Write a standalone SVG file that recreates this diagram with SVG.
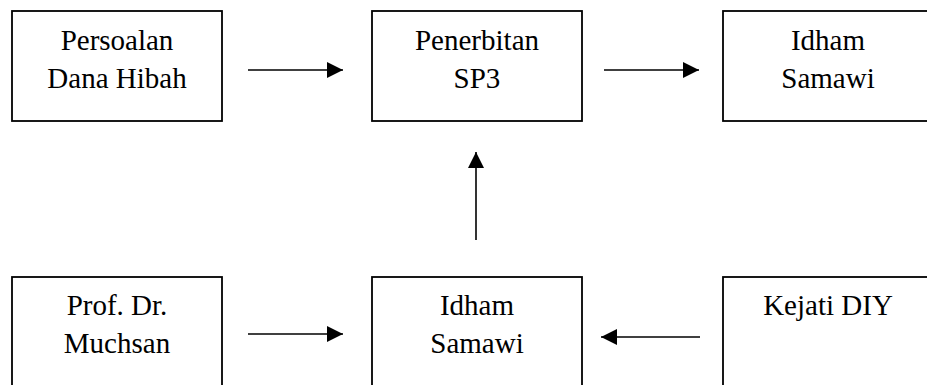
<svg xmlns="http://www.w3.org/2000/svg" width="927" height="385" viewBox="0 0 927 385">
  <style>
    .box { fill: #ffffff; stroke: #000000; stroke-width: 1.8; }
    .lbl { font-size: 29px; fill: #000000; text-anchor: middle; }
    .edge { stroke: #000000; stroke-width: 1.6; fill: none; marker-end: url(#head); }
  </style>
  <defs>
    <marker id="head" viewBox="0 0 16 16" refX="16" refY="8" markerWidth="16" markerHeight="16" markerUnits="userSpaceOnUse" orient="auto">
      <path d="M0,0 L16,8 L0,16 Z" fill="#000000"/>
    </marker>
  </defs>
  <rect width="927" height="385" fill="#ffffff"/>

  <g font-family="Liberation Serif, Times New Roman, serif">
    <g id="node-persoalan">
      <rect class="box" x="12" y="11" width="210" height="110"/>
      <text class="lbl" x="117" y="50">Persoalan</text>
      <text class="lbl" x="117" y="88">Dana Hibah</text>
    </g>
    <g id="node-penerbitan">
      <rect class="box" x="372" y="11" width="210" height="110"/>
      <text class="lbl" x="477" y="50">Penerbitan</text>
      <text class="lbl" x="477" y="88">SP3</text>
    </g>
    <g id="node-idham-top">
      <rect class="box" x="723" y="11" width="210" height="110"/>
      <text class="lbl" x="828" y="50">Idham</text>
      <text class="lbl" x="828" y="88">Samawi</text>
    </g>
    <g id="node-muchsan">
      <rect class="box" x="12" y="277" width="210" height="130"/>
      <text class="lbl" x="117" y="315">Prof. Dr.</text>
      <text class="lbl" x="117" y="353">Muchsan</text>
    </g>
    <g id="node-idham-bottom">
      <rect class="box" x="372" y="277" width="210" height="130"/>
      <text class="lbl" x="477" y="315">Idham</text>
      <text class="lbl" x="477" y="353">Samawi</text>
    </g>
    <g id="node-kejati">
      <rect class="box" x="723" y="277" width="210" height="130"/>
      <text class="lbl" x="828" y="315">Kejati DIY</text>
    </g>
  </g>

  <g id="connectors">
    <line class="edge" x1="248" y1="70" x2="343" y2="70"/>
    <line class="edge" x1="604" y1="70" x2="699" y2="70"/>
    <line class="edge" x1="476" y1="240" x2="476" y2="152"/>
    <line class="edge" x1="248" y1="334" x2="343" y2="334"/>
    <line class="edge" x1="700" y1="337" x2="601" y2="337"/>
  </g>
</svg>
